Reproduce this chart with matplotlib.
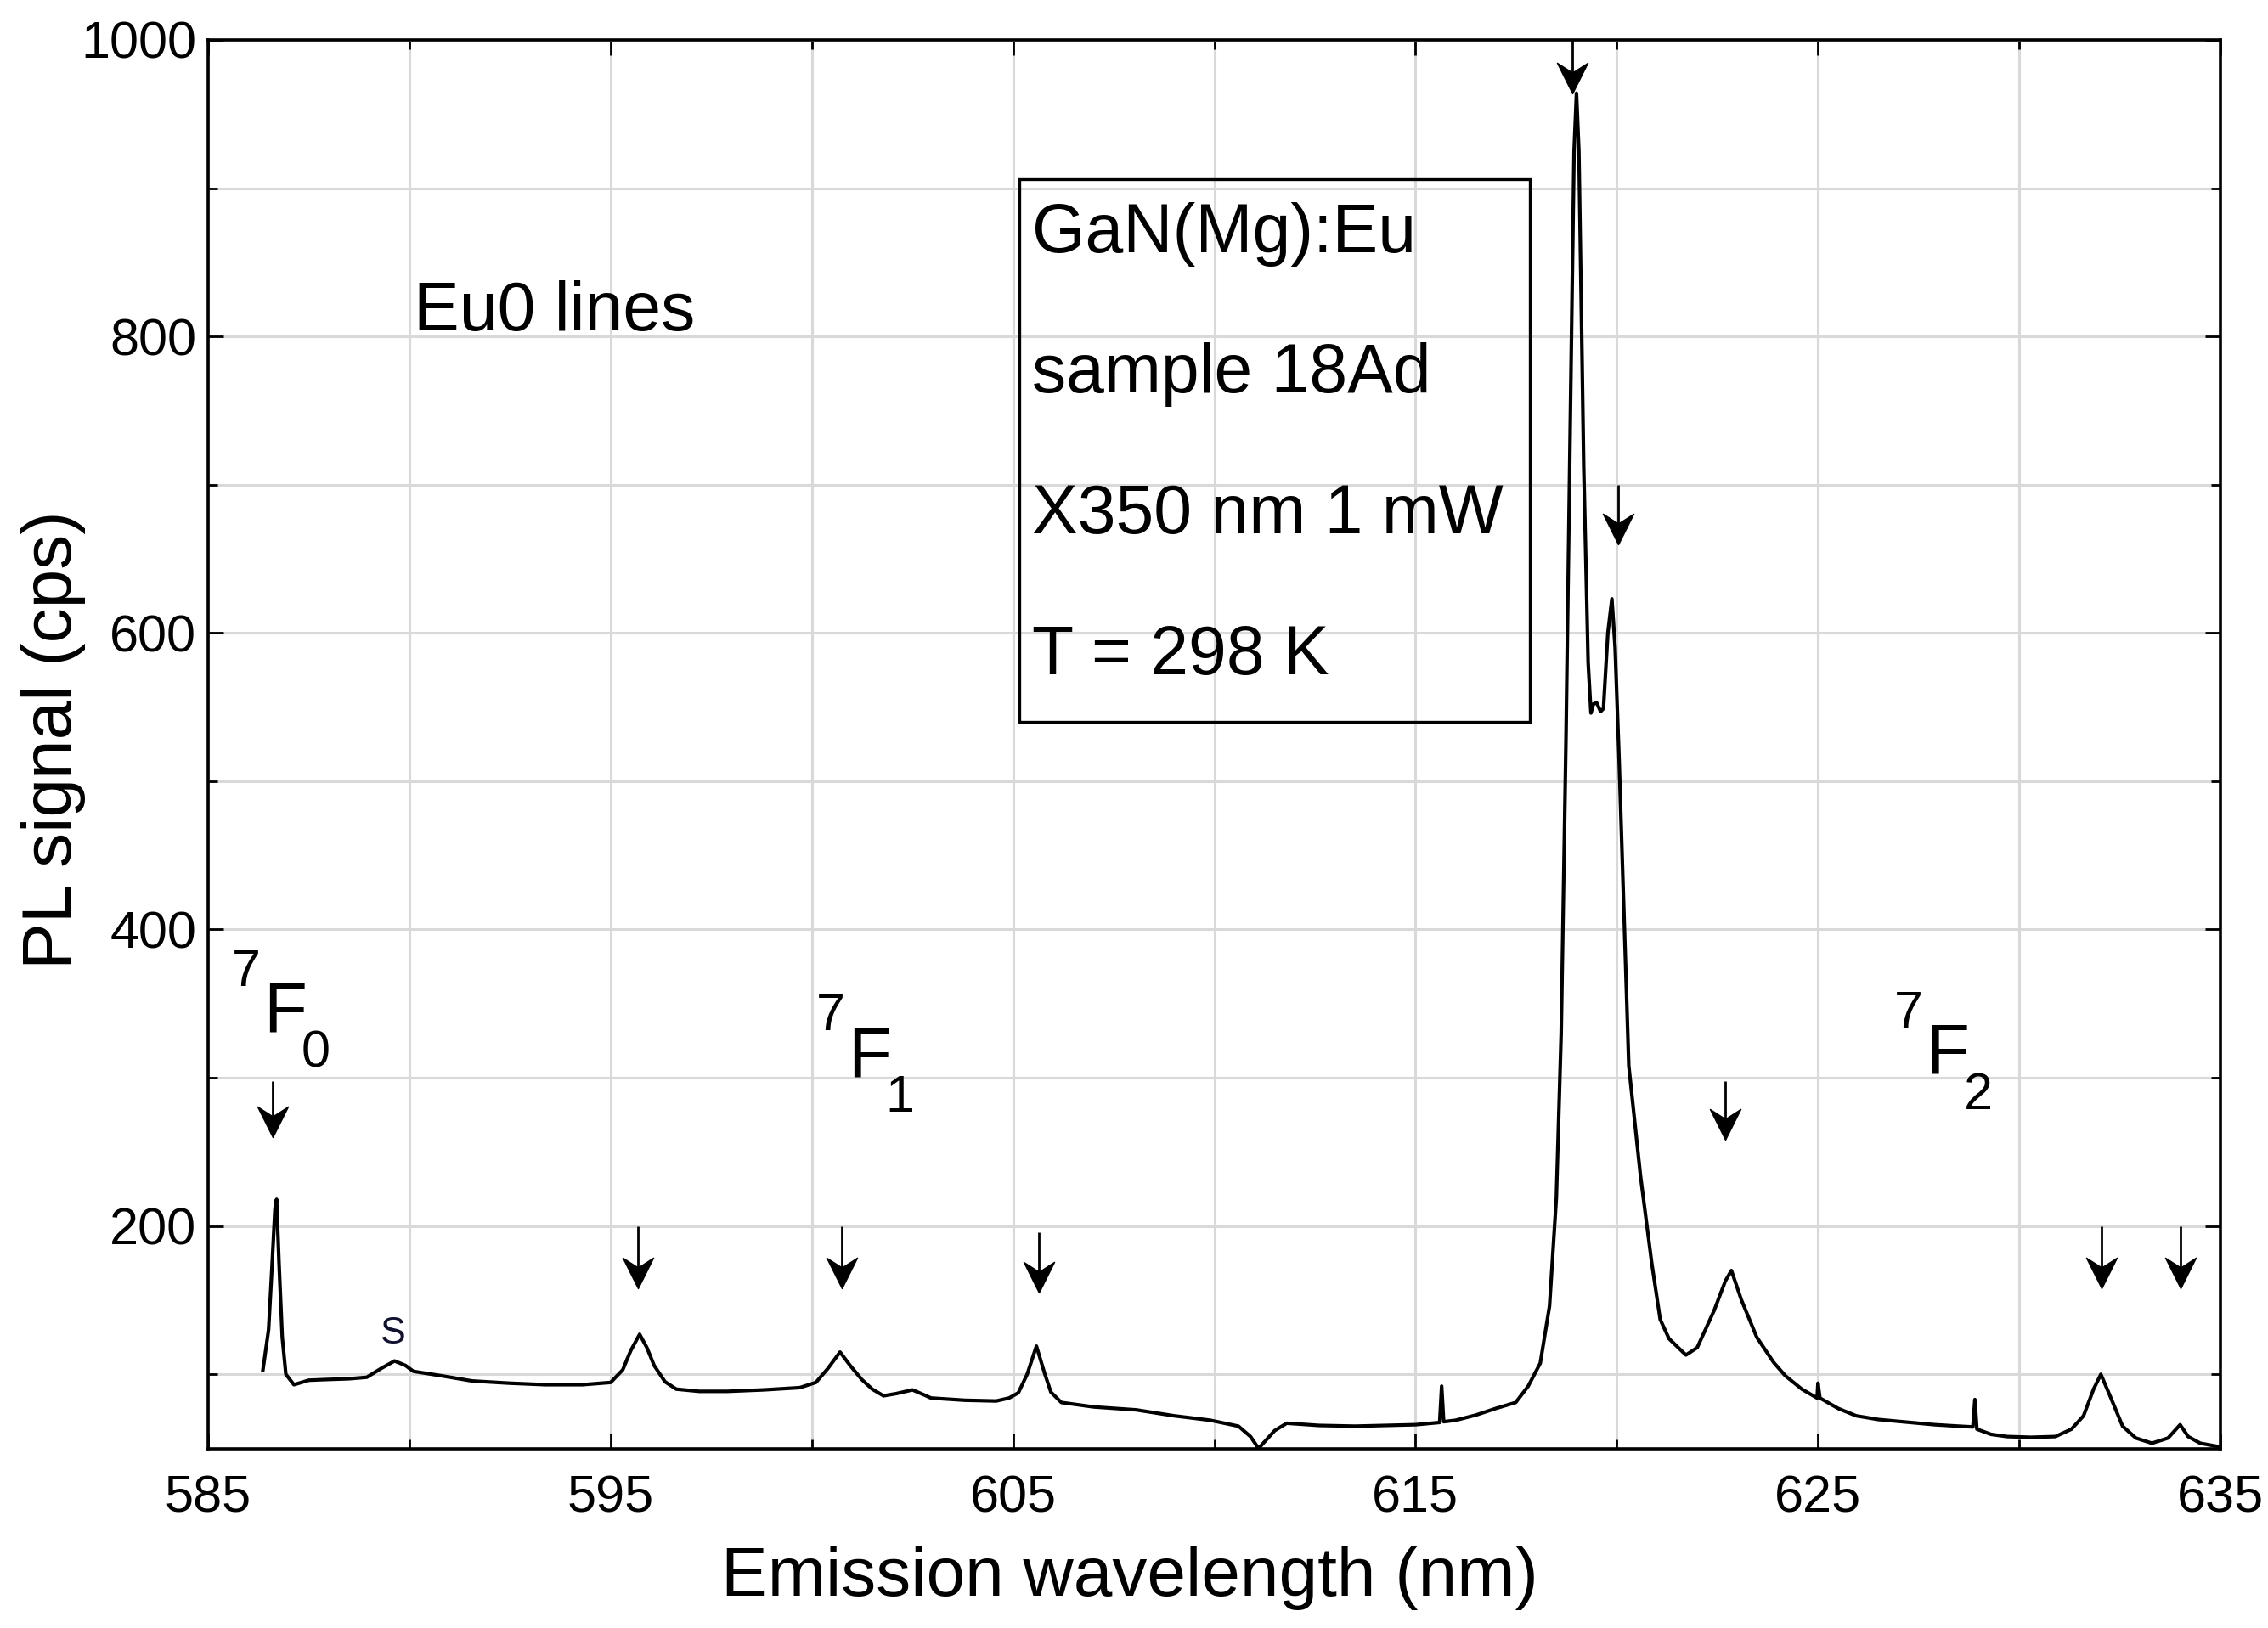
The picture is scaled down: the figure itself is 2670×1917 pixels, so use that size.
import numpy as np
import matplotlib.pyplot as plt
from matplotlib.path import Path
from matplotlib.ticker import MultipleLocator

plt.rcParams['font.family'] = ['Liberation Sans', 'DejaVu Sans']

# ---- spectrum (nm, cps) ----
wavelength = [
    586.36, 586.50, 586.58, 586.66, 586.70, 586.76, 586.84, 586.93, 587.13, 587.50,
    587.95, 588.50, 588.94, 589.30, 589.63, 589.90, 590.10, 590.80, 591.56, 592.50,
    593.37, 594.30, 595.00, 595.30, 595.50, 595.72, 595.90, 596.08, 596.35, 596.63,
    597.20, 597.90, 598.80, 599.70, 600.10, 600.40, 600.70, 600.95, 601.24, 601.50,
    601.78, 602.10, 602.50, 602.80, 602.96, 603.80, 604.58, 604.90, 605.13, 605.35,
    605.58, 605.78, 605.94, 606.20, 607.00, 608.06, 609.00, 609.90, 610.60, 610.90,
    611.10, 611.30, 611.50, 611.80, 612.60, 613.50, 614.30, 615.00, 615.60, 615.65,
    615.70, 616.00, 616.50, 617.00, 617.49, 617.80, 618.10, 618.33, 618.50, 618.62,
    618.74, 618.84, 618.94, 619.00, 619.06, 619.18, 619.29, 619.36, 619.42, 619.50,
    619.60, 619.67, 619.78, 619.88, 619.96, 620.06, 620.30, 620.59, 620.87, 621.08,
    621.30, 621.72, 622.00, 622.42, 622.70, 622.85, 623.10, 623.48, 623.90, 624.19,
    624.60, 624.98, 625.00, 625.05, 625.50, 625.95, 626.50, 627.30, 627.90, 628.50,
    628.85, 628.90, 628.95, 629.30, 629.70, 630.30, 630.90, 631.30, 631.60, 631.85,
    632.03, 632.25, 632.57, 632.90, 633.30, 633.70, 634.00, 634.20, 634.50, 634.80,
    635.00,
]
signal = [
    103, 130, 170, 212, 218, 175, 125, 100, 93, 96,
    96.5, 97, 98, 104, 109, 106, 102, 99, 95.5, 94,
    93, 93, 94.5, 103, 116, 127, 118, 106, 95, 90,
    88.5, 88.5, 89.5, 91, 94.5, 104, 115, 106, 96.5, 90,
    85.5, 87, 89.5, 86, 84, 82.5, 82, 84, 87.5, 100,
    119, 101, 88, 81, 78, 76, 72, 69, 65, 58,
    50, 56, 62, 67, 65.5, 65, 65.5, 66, 67.5, 92,
    68, 69, 72.5, 77, 81, 92, 107.5, 146, 219, 330,
    530, 730, 925, 964, 925, 712, 580, 546, 552, 553,
    547, 549, 600, 623, 590, 514, 308, 234, 175, 137,
    124, 113, 118, 143, 163, 170, 150, 125, 108, 99,
    90, 84, 94, 84, 77, 72, 69.5, 67.5, 66, 65,
    64.5, 83, 63, 59.5, 58, 57.5, 58, 63, 72, 90,
    100, 86, 65, 57, 53.5, 57, 66, 58, 53.5, 52,
    51,
]

# ---- Eu lines marked by arrows (nm, top of stem, tip) ----
arrow_x = [586.6, 595.67, 600.75, 605.65, 618.9, 620.03, 622.7, 632.05, 634.0]
arrow_top = [298, 200, 200, 196, 1000, 700, 298, 200, 200]
arrow_tip = [260, 158, 158, 155, 964, 660, 258, 158, 158]

# ---- 7F_J labels: (x, y) of the F baseline, J ----
level_x = [586.37, 600.9, 627.68]
level_y = [331, 301, 303]
level_j = ['0', '1', '2']

info_lines = ['GaN(Mg):Eu', 'sample 18Ad', 'X350 nm 1 mW', 'T = 298 K']
x_ticks = [585, 595, 605, 615, 625, 635]

fig = plt.figure(figsize=(13.35, 9.585), dpi=200)
ax = fig.add_axes([0.0918, 0.1103, 0.8872, 0.8652])

ax.plot(wavelength, signal, color='black', lw=1.5, zorder=3)

ax.set_xlim(585, 635)
ax.set_ylim(50, 1000)
ax.set_xticks(x_ticks)
ax.xaxis.set_minor_locator(MultipleLocator(5))
ax.yaxis.set_major_locator(MultipleLocator(200))
ax.yaxis.set_minor_locator(MultipleLocator(100))
ax.grid(True, which='both', color='#d9d9d9', lw=1.1, zorder=0)
ax.set_axisbelow(True)
ax.tick_params(which='both', direction='in', top=True, right=True, width=1.0)
ax.tick_params(which='major', length=6.5, labelsize=22)
ax.tick_params(axis='x', which='major', pad=11)
ax.tick_params(axis='y', which='major', pad=5)
ax.tick_params(which='minor', length=4)
for s in ax.spines.values():
    s.set_linewidth(1.3)

ax.set_xlabel('Emission wavelength (nm)', fontsize=29.5)
ax.set_ylabel('PL signal (cps)', fontsize=29.5)
ax.xaxis.set_label_coords(0.458, -0.069)
ax.yaxis.set_label_coords(-0.061, 0.503)

# arrows: thin stem + barbed head drawn as a marker
head = Path([(0, 0), (-0.5, 1.0), (0, 0.68), (0.5, 1.0), (0, 0)],
            [Path.MOVETO, Path.LINETO, Path.LINETO, Path.LINETO, Path.CLOSEPOLY])
ax.vlines(arrow_x, np.array(arrow_tip) + 10, arrow_top, color='black', lw=1.0, zorder=4)
ax.plot(arrow_x, arrow_tip, ls='none', marker=head, ms=26, mfc='black', mec='black',
        mew=0.5, zorder=5)

# text annotations
ax.text(590.1, 804, 'Eu0 lines', fontsize=29, ha='left', va='baseline')
ax.text(589.6, 121, 'S', fontsize=16, ha='center', va='baseline', color='#101030')

for x, y, j in zip(level_x, level_y, level_j):
    ax.text(x, y, 'F', fontsize=30, ha='left', va='baseline')
    ax.annotate('7', (x, y), xytext=(-13.5, 19.5), textcoords='offset points',
                fontsize=22, ha='left', va='baseline')
    ax.annotate(j, (x, y), xytext=(16, -15), textcoords='offset points',
                fontsize=22, ha='left', va='baseline')

box = plt.Rectangle((605.15, 540), 12.7, 366, fill=False, ec='black', lw=1.2, zorder=2)
ax.add_patch(box)
for i, line in enumerate(info_lines):
    ax.text(605.47, 857 - 95 * i, line, fontsize=29, ha='left', va='baseline', zorder=3)

fig.savefig('out.png', dpi=200)
